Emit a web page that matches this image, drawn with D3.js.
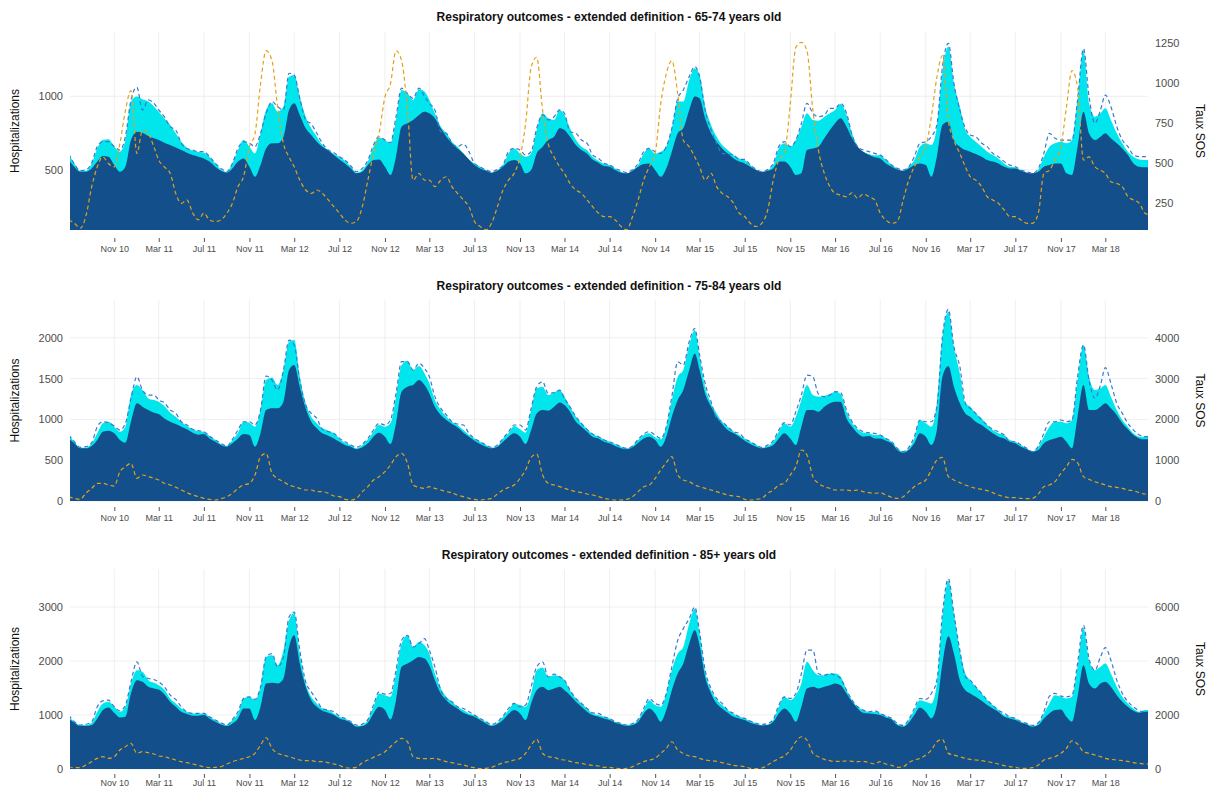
<!DOCTYPE html>
<html><head><meta charset="utf-8">
<script src="https://cdn.jsdelivr.net/npm/d3@7"></script>
<style>body{margin:0;background:#fff} text{font-family:"Liberation Sans",Arial,sans-serif}</style>
</head><body><svg id="c" width="1211" height="791"></svg>
<script>
// ---------- DATA (semi-monthly: 1st and 16th of each month, Jul 2010 .. Jul 2018) ----------
const titles = [
  "Respiratory outcomes - extended definition - 65-74 years old",
  "Respiratory outcomes - extended definition - 75-84 years old",
  "Respiratory outcomes - extended definition - 85+ years old"
];
const xTickLabels = ["Nov 10","Mar 11","Jul 11","Nov 11","Mar 12","Jul 12","Nov 12","Mar 13","Jul 13","Nov 13","Mar 14","Jul 14","Nov 14","Mar 15","Jul 15","Nov 15","Mar 16","Jul 16","Nov 16","Mar 17","Jul 17","Nov 17","Mar 18"];
const p1LeftTicks = [500, 1000];
const p1RightTicks = [250, 500, 750, 1000, 1250];
const p2LeftTicks = [0, 500, 1000, 1500, 2000];
const p2RightTicks = [0, 1000, 2000, 3000, 4000];
const p3LeftTicks = [0, 1000, 2000, 3000];
const p3RightTicks = [0, 2000, 4000, 6000];

// Panel 1 (65-74)
const p1Base = [
566,520,486,486,509,555,593,589,532,486,520,702,759,752,730,714,702,684,668,652,634,616,600,589,
577,555,520,493,480,509,555,577,520,452,532,645,680,680,725,907,952,873,782,736,691,657,630,600,
570,543,509,475,486,532,566,570,520,464,589,793,816,839,873,895,884,850,782,725,680,645,611,570,
532,509,493,480,493,520,555,566,543,475,498,611,657,702,725,782,770,725,668,634,611,570,548,525,
520,498,480,475,493,520,539,543,498,452,509,623,748,782,907,998,986,850,748,691,645,611,577,555,
543,520,498,486,493,509,555,555,520,464,475,634,645,657,714,770,816,850,793,714,657,623,600,584,
577,543,520,502,493,509,532,543,532,452,589,805,827,702,657,634,623,607,589,566,555,543,520,509,
509,493,480,475,486,520,532,543,543,475,464,657,895,748,702,725,748,714,680,645,600,543,520,516,
516];
const p1Fit = [
607,543,493,493,543,645,702,707,657,623,702,964,998,980,964,930,895,850,805,748,691,650,630,620,
616,589,543,502,486,543,634,702,657,611,748,907,952,895,930,1134,1145,998,861,782,725,668,634,607,
589,561,520,480,498,555,657,720,702,680,839,1043,1020,975,1048,1032,975,884,793,748,691,657,611,570,
543,520,498,480,498,532,611,645,611,589,611,770,884,850,839,907,873,782,702,657,634,589,561,539,
532,509,486,475,498,532,611,645,611,623,657,782,964,964,1111,1191,1145,930,805,725,668,634,600,577,
566,532,498,480,498,532,645,680,657,702,793,884,839,834,861,884,907,948,873,748,657,623,607,598,
600,566,532,509,493,520,566,657,680,668,793,1168,1339,1089,930,770,725,691,657,623,600,577,543,520,
516,498,480,475,502,589,657,680,691,680,702,975,1314,952,861,884,918,839,748,680,623,589,570,566,
566];
const p1Obs = [
607,539,493,498,548,657,691,691,657,634,725,975,1061,907,975,952,907,861,793,770,680,645,634,623,
623,589,543,509,486,543,645,691,680,657,748,884,964,930,907,1157,1145,986,839,811,748,680,634,616,
589,566,525,486,509,566,668,725,702,684,861,1055,1020,986,1055,998,952,907,759,748,680,657,675,623,
543,520,498,486,502,532,623,645,634,600,623,782,873,839,861,907,884,759,748,702,680,600,577,543,
532,509,493,480,502,543,623,645,623,611,657,782,986,1043,1134,1202,1134,907,770,680,611,607,600,570,
570,532,502,486,502,543,657,691,657,702,816,952,884,861,873,918,918,952,884,736,657,634,623,611,
600,570,532,509,498,520,589,680,691,725,805,1202,1361,1089,907,782,736,725,680,657,611,589,555,532,
520,498,486,475,509,611,748,714,702,702,702,975,1325,998,816,907,1009,930,793,702,657,600,589,589,
586];
const p1Sos = [
142,121,90,163,350,474,536,495,474,619,827,951,557,702,681,599,516,474,433,308,246,267,184,142,
184,142,132,142,184,246,350,412,599,681,993,1200,1138,848,619,536,474,391,329,308,329,308,267,225,
184,142,121,132,225,391,557,681,910,993,1200,1138,827,391,433,391,391,350,391,412,350,308,267,225,
132,101,80,121,225,329,391,433,536,744,1096,1159,827,619,536,474,433,370,329,308,267,225,184,163,
163,142,101,80,163,267,391,474,557,868,1055,1138,930,640,599,536,474,391,433,350,308,287,246,184,
163,121,101,121,204,391,516,557,868,1221,1252,1200,827,578,433,350,308,298,287,312,277,304,287,267,
184,142,121,132,267,391,474,536,599,785,1034,1169,764,640,557,474,412,391,350,287,267,246,204,163,
163,142,121,121,184,433,453,516,599,848,1076,972,516,536,474,453,433,381,370,350,287,267,246,184,
173];

// Panel 2 (75-84)
const p2Base = [
767,706,645,645,673,747,849,861,829,747,714,971,1196,1155,1114,1082,1065,1012,971,943,910,878,837,812,
820,767,726,686,665,706,767,820,808,665,829,1114,1135,1135,1216,1604,1665,1400,1135,971,890,829,800,767,
726,686,665,633,657,706,788,837,788,698,951,1339,1400,1420,1482,1420,1318,1155,1053,992,943,902,837,788,
739,698,665,645,665,726,788,829,788,698,869,1073,1114,1106,1155,1208,1176,1094,971,910,849,788,767,726,
706,673,645,633,657,714,767,788,747,665,788,1033,1237,1359,1604,1808,1604,1318,1155,1033,943,869,829,788,
739,698,665,645,657,686,767,829,767,686,910,1114,1114,1094,1155,1196,1216,1216,1012,910,829,788,796,767,
767,739,706,624,592,624,706,829,788,686,869,1522,1653,1400,1196,1073,1033,971,931,878,829,788,767,726,
706,665,633,604,624,706,747,767,788,726,645,1033,1420,1114,1114,1155,1196,1135,1053,951,878,808,767,755,
755];
const p2Fit = [
808,726,653,653,706,829,951,971,910,849,910,1298,1420,1359,1257,1237,1216,1163,1082,1033,971,918,878,853,
849,796,747,698,673,747,837,971,959,910,1114,1482,1514,1420,1604,1951,1971,1522,1196,1033,951,890,861,829,
767,714,686,645,686,755,849,931,910,951,1278,1665,1718,1604,1653,1563,1441,1237,1114,1033,971,931,869,808,
767,726,686,653,673,767,829,918,878,837,1114,1380,1400,1298,1327,1359,1278,1155,1033,951,878,820,788,755,
726,698,665,645,673,747,808,829,780,755,910,1237,1522,1604,1910,2094,1767,1400,1196,1073,971,910,849,808,
767,726,686,653,673,726,849,951,910,1033,1237,1420,1298,1278,1286,1310,1339,1310,1094,959,878,837,829,808,
808,767,726,645,604,645,767,992,951,910,1196,2012,2318,1890,1563,1196,1155,1073,1012,931,869,829,808,747,
726,686,645,604,665,788,910,971,971,951,992,1482,1910,1522,1359,1380,1420,1278,1114,992,910,829,788,788,
788];
const p2Obs = [
808,726,657,665,714,910,971,959,918,869,951,1257,1522,1359,1298,1298,1237,1204,1114,1073,971,931,878,861,
849,796,747,706,673,755,869,971,971,931,1114,1531,1482,1359,1604,1971,1910,1482,1176,1073,1012,878,849,829,
767,726,686,657,698,767,869,951,931,992,1318,1706,1706,1604,1686,1624,1522,1278,1135,1053,971,943,931,829,
767,726,686,657,686,767,849,931,931,869,1135,1400,1461,1318,1327,1359,1257,1155,1033,951,878,820,788,747,
726,698,665,645,673,755,820,849,808,767,910,1278,1706,1665,1951,2114,1788,1441,1216,1012,971,910,849,829,
767,726,686,657,686,739,869,959,931,1094,1298,1543,1522,1310,1278,1298,1339,1327,1114,971,890,849,837,829,
808,767,726,645,604,657,788,992,971,971,1155,2012,2347,1890,1645,1196,1135,1073,992,931,878,849,808,726,
726,686,645,604,673,829,971,971,992,971,992,1522,1910,1482,1257,1420,1633,1441,1196,1073,951,869,808,788,
788];
const p2Sos = [
106,65,41,188,310,433,433,392,367,718,841,922,555,637,596,555,514,433,392,335,269,204,147,106,
65,41,24,57,106,188,310,392,433,637,1086,1167,678,555,473,392,351,310,269,269,229,229,188,122,
106,41,24,65,229,351,514,596,718,882,1086,1167,922,392,335,310,351,310,269,229,204,147,106,65,
41,24,41,65,171,269,335,392,555,759,1069,1151,637,433,392,351,310,269,229,204,171,147,106,65,
41,24,24,41,106,229,351,392,555,759,939,1086,637,514,473,392,351,310,269,229,188,147,122,106,
41,24,41,65,188,269,392,433,637,841,1249,1127,596,433,351,310,269,269,269,253,269,229,204,188,
204,147,90,65,106,229,351,433,514,759,1004,1069,596,514,449,392,351,310,286,253,204,147,106,82,
82,65,57,65,171,351,392,473,678,841,1020,939,596,531,473,433,392,351,335,310,269,253,204,171,
171];

// Panel 3 (85+)
const p3Base = [
937,856,795,795,813,937,1091,1140,1041,955,967,1399,1645,1614,1522,1491,1472,1386,1245,1152,1060,1017,986,986,
998,937,875,826,795,844,937,1121,1121,906,1152,1583,1596,1583,1676,2261,2477,1953,1522,1275,1152,1078,1041,998,
937,906,856,782,795,856,1029,1152,1091,918,1275,1892,1953,2015,2076,2046,1922,1645,1399,1275,1183,1121,1041,998,
967,906,844,795,832,906,1017,1091,1029,906,1214,1460,1522,1460,1491,1522,1460,1368,1245,1152,1060,998,967,937,
906,856,826,795,813,875,1029,1121,1029,875,1091,1460,1768,1953,2323,2569,2292,1707,1399,1214,1121,1041,967,937,
906,856,826,807,813,875,1029,1121,1029,875,1152,1491,1522,1491,1522,1553,1583,1553,1399,1245,1121,1041,1029,1017,
998,955,918,813,782,856,998,1140,1060,937,1183,1953,2458,2138,1645,1460,1399,1337,1263,1183,1121,1060,967,937,
906,856,826,782,813,937,1029,1091,1103,967,875,1337,1922,1583,1491,1583,1614,1522,1368,1245,1152,1078,1041,1060,
1060];
const p3Fit = [
967,875,813,813,856,1060,1214,1245,1152,1060,1152,1583,1830,1799,1645,1596,1553,1472,1306,1214,1121,1060,1029,1029,
1029,967,906,844,813,906,1029,1306,1337,1275,1522,2076,2107,1922,2200,2754,2890,2138,1583,1337,1214,1121,1091,1029,
967,937,875,795,813,906,1152,1399,1368,1337,1768,2323,2477,2261,2354,2292,2138,1768,1491,1337,1245,1152,1091,1029,
998,937,875,813,856,967,1091,1214,1183,1152,1399,1830,1879,1707,1737,1719,1645,1460,1306,1214,1121,1029,998,967,
937,875,844,813,832,906,1091,1275,1183,1152,1399,1830,2138,2261,2693,2970,2508,1799,1460,1288,1183,1091,1017,967,
937,887,844,813,826,906,1152,1337,1275,1368,1583,1984,1830,1737,1737,1768,1768,1707,1460,1275,1152,1091,1060,1060,
1029,980,937,832,795,906,1091,1275,1245,1214,1583,2816,3481,2877,2200,1768,1645,1522,1399,1275,1183,1091,998,967,
937,875,844,795,844,1029,1214,1368,1337,1306,1337,1892,2618,2015,1830,1892,1953,1768,1522,1337,1214,1121,1060,1091,
1091];
const p3Obs = [
998,875,813,826,875,1152,1263,1275,1152,1078,1183,1614,1984,1719,1676,1657,1614,1522,1368,1288,1152,1060,1029,1029,
1029,967,906,856,813,918,1060,1306,1337,1288,1522,2076,2138,1892,2076,2816,2908,2200,1614,1429,1275,1121,1091,1060,
980,937,875,813,832,918,1183,1429,1386,1399,1830,2384,2477,2261,2323,2415,2200,1892,1460,1306,1245,1152,1121,1060,
998,937,875,826,875,980,1121,1214,1152,1183,1522,1892,1984,1707,1756,1707,1645,1460,1306,1214,1121,1041,1029,967,
937,875,844,813,844,918,1121,1306,1214,1183,1399,1892,2384,2600,2785,3000,2538,1830,1491,1306,1214,1091,1029,967,
937,887,844,826,844,918,1183,1337,1306,1399,1768,2200,2200,1768,1737,1768,1737,1676,1460,1275,1152,1091,1060,1078,
1029,980,937,844,807,918,1121,1306,1288,1399,1645,2877,3524,2877,2200,1707,1645,1522,1399,1275,1183,1091,1029,967,
937,875,844,807,856,1060,1349,1399,1349,1337,1368,1953,2662,2046,1830,2076,2249,2015,1645,1399,1245,1152,1078,1060,
1060];
const p3Sos = [
86,49,49,148,271,394,456,394,456,702,826,949,579,641,604,555,481,456,394,333,271,234,185,136,
86,49,62,86,185,271,333,394,456,579,887,1158,764,579,518,456,394,333,308,308,271,271,234,185,
136,49,37,62,234,333,431,518,641,826,1010,1134,1010,456,394,382,382,394,333,271,234,185,148,86,
49,12,25,62,148,234,271,333,394,579,887,1097,579,456,431,357,333,283,234,209,160,136,111,62,
62,25,12,25,86,185,271,333,394,579,764,1010,702,579,481,456,394,333,308,283,234,185,136,111,
86,25,12,37,148,271,394,481,702,1010,1195,1072,579,456,357,308,283,283,296,283,271,283,234,185,
271,185,136,62,86,234,333,394,518,702,1010,1097,579,518,456,394,357,333,308,271,234,185,123,86,
62,25,25,49,148,333,394,456,579,764,1047,924,641,579,518,456,394,357,333,308,283,234,209,185,
185];

// ---------- DRAWING ----------
const dates = [];
d3.utcMonth.range(new Date(Date.UTC(2010,6,1)), new Date(Date.UTC(2018,6,1))).forEach(m => {
  dates.push(m); dates.push(d3.utcDay.offset(m, 15));
});
dates.push(new Date(Date.UTC(2018,6,1)));

const parseTick = d3.utcParse("%b %y");
const xTicks = xTickLabels.map(parseTick);

const COL_DARK = "#134f8b", COL_CYAN = "#00e6ec", COL_OBS = "#3a78d0", COL_SOS = "#e3a21a";
const LEFT = 70, RIGHT = 1148;

const panels = [
  {title: titles[0], base: p1Base, fit: p1Fit, obs: p1Obs, sos: p1Sos, top: 32, bottom: 230,
   ld: [89.2, 1438], rd: [79, 1317], lt: p1LeftTicks, rt: p1RightTicks, tickOff: 8, pad: 4, titleY: 17},
  {title: titles[1], base: p2Base, fit: p2Fit, obs: p2Obs, sos: p2Sos, top: 300, bottom: 501,
   ld: [0, 2462], rd: [0, 4924], lt: p2LeftTicks, rt: p2RightTicks, tickOff: 6, pad: 4, titleY: 286},
  {title: titles[2], base: p3Base, fit: p3Fit, obs: p3Obs, sos: p3Sos, top: 569, bottom: 769,
   ld: [0, 3704], rd: [0, 7408], lt: p3LeftTicks, rt: p3RightTicks, tickOff: 5, pad: 2, titleY: 555}
];

const svg = d3.select("#c");
svg.append("rect").attr("width", 1211).attr("height", 791).attr("fill", "#fff");

const x = d3.scaleUtc()
  .domain([new Date(Date.UTC(2010,6,4,7)), new Date(Date.UTC(2018,5,24,7))])
  .range([LEFT, RIGHT]);
const numFmt = d3.format("d");

panels.forEach((p, i) => {
  const yL = d3.scaleLinear().domain(p.ld).range([p.bottom, p.top]);
  const yR = d3.scaleLinear().domain(p.rd).range([p.bottom, p.top]);
  const g = svg.append("g");

  // grid
  g.selectAll(".hg").data(p.lt).join("line")
    .attr("x1", LEFT).attr("x2", RIGHT)
    .attr("y1", d => yL(d)).attr("y2", d => yL(d))
    .attr("stroke", "#ebebeb").attr("stroke-width", 0.8);
  g.selectAll(".vg").data(xTicks).join("line")
    .attr("x1", d => x(d)).attr("x2", d => x(d))
    .attr("y1", p.top).attr("y2", p.bottom)
    .attr("stroke", "#ebebeb").attr("stroke-width", 0.8);

  const clipId = "clip" + i;
  svg.append("clipPath").attr("id", clipId).append("rect")
    .attr("x", LEFT).attr("y", p.top).attr("width", RIGHT - LEFT).attr("height", p.bottom - p.top);
  const c = g.append("g").attr("clip-path", `url(#${clipId})`);

  const curve = d3.curveMonotoneX;
  c.append("path").datum(dates.map((d, k) => [d, p.fit[k]]))
    .attr("fill", COL_CYAN)
    .attr("d", d3.area().curve(curve).x(d => x(d[0])).y0(p.bottom + 2).y1(d => yL(d[1])));
  c.append("path").datum(dates.map((d, k) => [d, p.base[k]]))
    .attr("fill", COL_DARK)
    .attr("d", d3.area().curve(curve).x(d => x(d[0])).y0(p.bottom + 2).y1(d => yL(d[1])));
  c.append("path").datum(dates.map((d, k) => [d, p.obs[k]]))
    .attr("fill", "none").attr("stroke", COL_OBS).attr("stroke-width", 1.2)
    .attr("stroke-dasharray", "4,3")
    .attr("d", d3.line().curve(curve).x(d => x(d[0])).y(d => yL(d[1])));
  c.append("path").datum(dates.map((d, k) => [d, p.sos[k]]))
    .attr("fill", "none").attr("stroke", COL_SOS).attr("stroke-width", 1.2)
    .attr("stroke-dasharray", "4,3")
    .attr("d", d3.line().curve(curve).x(d => x(d[0])).y(d => yR(d[1])));

  // x axis
  const xa = g.append("g").attr("transform", `translate(0,${p.bottom + p.tickOff})`)
    .call(d3.axisBottom(x).tickValues(xTicks).tickFormat(d3.utcFormat("%b %y")).tickSize(4).tickSizeOuter(0).tickPadding(p.pad));
  xa.select(".domain").remove();
  xa.selectAll("line").attr("stroke", "#555");
  xa.selectAll("text").attr("fill", "#4d4d4d").style("font-size", "9px");

  // left axis
  const la = g.append("g").attr("transform", `translate(${LEFT},0)`)
    .call(d3.axisLeft(yL).tickValues(p.lt).tickFormat(numFmt).tickSize(0).tickPadding(7));
  la.select(".domain").remove();
  la.selectAll("text").attr("fill", "#4d4d4d").style("font-size", "11px");

  // right axis
  const ra = g.append("g").attr("transform", `translate(${RIGHT},0)`)
    .call(d3.axisRight(yR).tickValues(p.rt).tickFormat(numFmt).tickSize(0).tickPadding(7));
  ra.select(".domain").remove();
  ra.selectAll("text").attr("fill", "#4d4d4d").style("font-size", "11px");

  // titles
  g.append("text").attr("x", (LEFT + RIGHT) / 2).attr("y", p.titleY).attr("dy", "0.35em")
    .attr("text-anchor", "middle").style("font-size", "12px").style("font-weight", "bold")
    .attr("fill", "#111").text(p.title);
  const midY = (p.top + p.bottom) / 2;
  g.append("text").attr("transform", `translate(15,${midY}) rotate(-90)`)
    .attr("text-anchor", "middle").attr("dy", "0.35em").style("font-size", "12px")
    .attr("fill", "#111").text("Hospitalizations");
  g.append("text").attr("transform", `translate(1200,${midY}) rotate(90)`)
    .attr("text-anchor", "middle").attr("dy", "0.35em").style("font-size", "12px")
    .attr("fill", "#111").text("Taux SOS");
});
</script></body></html>
